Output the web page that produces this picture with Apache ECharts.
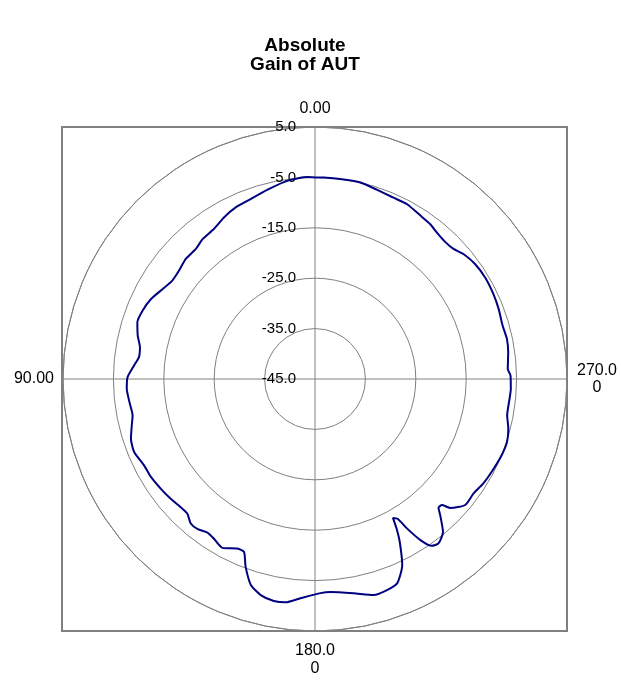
<!DOCTYPE html>
<html>
<head>
<meta charset="utf-8">
<script src="https://cdn.jsdelivr.net/npm/echarts@6/dist/echarts.min.js"></script>
<style>
html,body{margin:0;padding:0;background:#fff;}
#chart{width:621px;height:682px;}
</style>
</head>
<body>
<div id="chart"></div>
<script>
// Angle (degrees, counter-clockwise from top) and absolute gain (dB)
const angles = [0, 2.2, 8.0, 14.2, 19.7, 24.8, 29.4, 34.0, 38.8, 42.5, 47.1, 51.5, 55.4, 59.4, 64.0, 68.4, 72.3, 76.3, 79.7, 82.9,
  85.7, 89.5, 93.0, 97.1, 101.3, 104.2, 108.0, 112.0, 116.8, 120.8, 126.1, 129.7, 134.4, 136.5, 139.3, 142.0, 145.0, 147.7, 151.3, 155.4,
  157.7, 159.7, 162.7, 165.9, 169.5, 172.5, 176.2, 181.5, 184.2, 190.2, 195.2, 198.4, 201.9, 205.1, 207.5, 208.6, 209.3, 210.6, 211.6, 213.2,
  215.0, 216.9, 219.9, 222.6, 223.8, 225.2, 226.4, 230.0, 234.1, 238.2, 242.3, 247.8, 251.8, 255.6, 259.3, 264.2, 267.1, 271.0, 273.0, 277.9,
  281.8, 285.9, 290.9, 295.5, 300.8, 305.7, 310.1, 313.2, 316.5, 320.2, 323.4, 327.3, 332.2, 336.6, 341.8, 347.0, 351.8, 357.5, 360];
const gains = [-5.0, -4.9, -5.3, -6.3, -7.1, -7.5, -8.2, -9.1, -9.4, -10.0, -10.0, -10.5, -10.6, -9.9, -8.8, -8.2, -8.0, -8.8, -9.7, -9.8,
  -9.0, -7.8, -7.6, -7.9, -8.1, -7.5, -6.6, -6.3, -7.0, -7.1, -7.5, -7.8, -8.2, -8.2, -7.2, -7.2, -7.8, -7.5, -6.8, -8.0,
  -7.9, -5.3, -2.2, -0.8, -0.2, -0.3, -1.4, -2.5, -2.6, -1.8, -0.6, -0.7, -1.3, -4.2, -8.6, -11.2, -13.4, -12.8, -10.2, -6.8,
  -4.6, -4.2, -5.4, -8.3, -9.6, -9.5, -7.9, -6.1, -6.2, -5.7, -5.4, -5.0, -4.9, -5.4, -6.2, -6.2, -6.1, -6.2, -6.7, -6.3,
  -6.1, -6.3, -6.0, -5.8, -5.7, -5.9, -6.5, -7.3, -7.5, -7.2, -6.7, -6.4, -5.8, -5.8, -5.5, -5.0, -5.0, -5.0, -5.0];
// Axis tick labels
const angleLabels = {0: '0.00', 90: '90.00', 180: '{b|180.0}\n{c|0}', 270: '{a|270.0}\n{a|0}'};
const radiusMin = -45, radiusMax = 5, radiusStep = 10;

const FONT = "'Liberation Sans', Arial, sans-serif";
const chart = echarts.init(document.getElementById('chart'), null, {renderer: 'canvas'});
const seriesData = angles.map((a, i) => [gains[i], a]);

chart.setOption({
  animation: false,
  backgroundColor: '#ffffff',
  title: {
    text: 'Absolute\nGain of AUT',
    left: 300,
    textAlign: 'center',
    top: 31,
    textStyle: {fontFamily: FONT, fontSize: 19, fontWeight: 'bold', color: '#000', lineHeight: 19}
  },
  grid: {
    show: true, left: 62, top: 127, width: 505, height: 504,
    borderColor: '#808080', borderWidth: 2, backgroundColor: 'transparent'
  },
  xAxis: {type: 'value', show: false, min: -1, max: 1},
  yAxis: {type: 'value', show: false, min: -1, max: 1},
  polar: {center: [315, 379], radius: 252},
  angleAxis: {
    type: 'value', min: 0, max: 360, interval: 90,
    startAngle: 90, clockwise: false,
    axisLine: {show: true, lineStyle: {color: '#808080', width: 1}},
    axisTick: {show: false},
    splitLine: {show: true, lineStyle: {color: '#808080', width: 1}},
    axisLabel: {
      margin: 9,
      fontFamily: FONT, fontSize: 16, color: '#000', lineHeight: 18,
      formatter: v => (v in angleLabels && v !== 360) ? angleLabels[v] : '',
      rich: {
        a: {width: 42, align: 'center', fontFamily: FONT, fontSize: 16, color: '#000', lineHeight: 17},
        b: {width: 42, align: 'center', fontFamily: FONT, fontSize: 16, color: '#000', lineHeight: 22},
        c: {width: 42, align: 'center', fontFamily: FONT, fontSize: 16, color: '#000', lineHeight: 14}
      }
    }
  },
  radiusAxis: {
    type: 'value', min: radiusMin, max: radiusMax, interval: radiusStep,
    axisLine: {show: false},
    axisTick: {show: false},
    splitLine: {show: true, lineStyle: {color: '#808080', width: 1}},
    axisLabel: {
      margin: 19,
      fontFamily: FONT, fontSize: 15, color: '#000',
      formatter: v => v.toFixed(1)
    }
  },
  series: [{
    type: 'line',
    coordinateSystem: 'polar',
    data: seriesData,
    showSymbol: false,
    smooth: 0.2,
    lineStyle: {color: '#000080', width: 2},
    z: 5
  }]
});
</script>
</body>
</html>
